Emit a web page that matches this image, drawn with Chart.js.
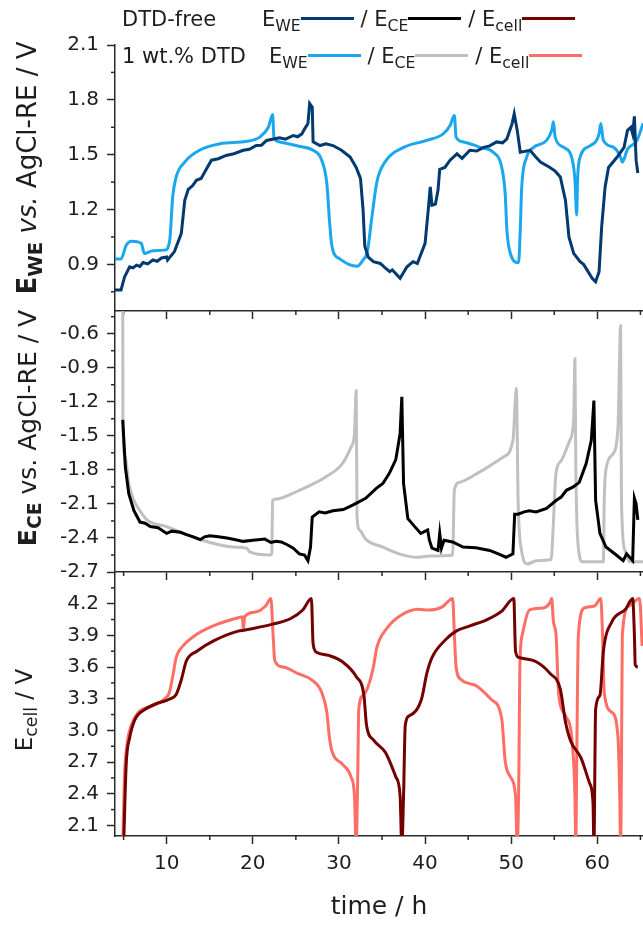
<!DOCTYPE html>
<html>
<head>
<meta charset="utf-8">
<script src="https://cdn.jsdelivr.net/npm/chart.js@4.4.1/dist/chart.umd.min.js"></script>
<style>
  html, body { margin: 0; padding: 0; background: #fff; }
  #page { position: relative; width: 643px; height: 928px; overflow: hidden; font-family: "DejaVu Sans", sans-serif; color: #1e1e1e; }
  #page canvas { position: absolute; left: 0; }
  .lg { position: absolute; font-size: 21px; line-height: 1; white-space: nowrap; }
  .sw { display: inline-block; width: 53px; height: 3px; vertical-align: 0.3em; }
  sub { font-size: 75%; vertical-align: -0.3em; line-height: 0; }
  .yt { position: absolute; line-height: 1; white-space: nowrap; transform: translate(-50%, -50%) rotate(-90deg); }
</style>
</head>
<body>
<div id="page">
  <canvas id="weChart" width="643" height="340" style="top:0"></canvas>
  <canvas id="ceChart" width="643" height="321" style="top:280px"></canvas>
  <canvas id="cellChart" width="643" height="388" style="top:540px"></canvas>

  <div class="lg" style="left:122px; top:9px">DTD-free</div>
  <div class="lg" style="left:262px; top:9px">E<sub>WE</sub><span class="sw" style="background:#003a70"></span> / E<sub>CE</sub><span class="sw" style="background:#000"></span> / E<sub>cell</sub><span class="sw" style="background:#730000"></span></div>
  <div class="lg" style="left:122px; top:46px">1 wt.% DTD</div>
  <div class="lg" style="left:269px; top:46px">E<sub>WE</sub><span class="sw" style="background:#1aa7ee"></span> / E<sub>CE</sub><span class="sw" style="background:#c0c0c0"></span> / E<sub>cell</sub><span class="sw" style="background:#ff6e66"></span></div>

  <div class="yt" style="left:27px; top:168px; font-size:26px"><b>E<sub>WE</sub></b> <i>vs.</i> AgCl-RE / V</div>
  <div class="yt" style="left:27px; top:428px; font-size:25px"><b>E<sub>CE</sub></b> vs. AgCl-RE / V</div>
  <div class="yt" style="left:24px; top:710px; font-size:23px">E<sub>cell</sub> / V</div>
</div>

<script>
// Zeitachse
const timeMin = 4;
const timeMax = 65.3;
const timeTicks = [10, 20, 30, 40, 50, 60];
const timeMinor = [5, 15, 25, 35, 45, 55, 65];

// Achsenbeschriftungen der drei Felder
const weTicks = [0.9, 1.2, 1.5, 1.8, 2.1];
const weMinor = [0.75, 1.05, 1.35, 1.65, 1.95];
const ceTicks = [-2.7, -2.4, -2.1, -1.8, -1.5, -1.2, -0.9, -0.6];
const ceMinor = [-2.55, -2.25, -1.95, -1.65, -1.35, -1.05, -0.75, -0.45];
const cellTicks = [2.1, 2.4, 2.7, 3.0, 3.3, 3.6, 3.9, 4.2];
const cellMinor = [2.25, 2.55, 2.85, 3.15, 3.45, 3.75, 4.05, 4.35];

// E_WE, DTD-frei  [t / h, E / V]
const weFree = [
  [3.95, 0.76], [4.7, 0.76], [5.1, 0.83], [5.7, 0.887], [6.1, 0.881], [6.5, 0.896], [6.9, 0.889], [7.25, 0.91],
  [7.8, 0.903], [8.4, 0.924], [8.9, 0.917], [9.4, 0.935], [10.0, 0.94], [10.1, 0.924], [10.9, 0.97], [11.7, 1.07],
  [12.1, 1.25], [12.5, 1.31], [13.0, 1.33], [13.45, 1.36], [14.0, 1.37], [14.6, 1.42], [15.2, 1.47], [16.0, 1.478],
  [16.9, 1.496], [17.8, 1.505], [18.9, 1.524], [19.6, 1.53], [20.4, 1.55], [21.0, 1.552], [21.6, 1.578], [23.1, 1.593],
  [23.8, 1.585], [24.7, 1.605], [25.2, 1.598], [25.7, 1.614], [26.0, 1.64], [26.4, 1.67], [26.6, 1.78], [26.9, 1.76],
  [27.0, 1.57], [27.8, 1.55], [28.5, 1.56], [29.3, 1.55], [30.3, 1.524], [31.3, 1.487], [32.0, 1.43], [32.5, 1.37],
  [32.8, 1.2], [33.0, 1.0], [33.4, 0.94], [34.0, 0.915], [34.8, 0.905], [35.4, 0.88], [35.9, 0.86], [36.2, 0.87],
  [37.1, 0.824], [37.9, 0.887], [38.6, 0.915], [39.1, 0.905], [40.0, 1.015], [40.4, 1.215], [40.6, 1.324], [40.8, 1.224],
  [41.2, 1.23], [41.5, 1.305], [41.7, 1.42], [42.3, 1.43], [42.9, 1.47], [43.7, 1.505], [44.3, 1.48], [45.2, 1.524],
  [46.0, 1.52], [46.8, 1.54], [47.5, 1.548], [48.3, 1.57], [49.0, 1.565], [49.5, 1.587], [50.1, 1.67], [50.35, 1.724],
  [50.7, 1.633], [51.05, 1.514], [52.2, 1.524], [52.8, 1.49], [53.4, 1.46], [54.5, 1.43], [55.1, 1.41], [55.7, 1.378],
  [56.3, 1.25], [56.7, 1.05], [57.25, 0.96], [58.0, 0.915], [58.4, 0.9], [58.8, 0.87], [59.4, 0.824], [59.8, 0.805],
  [60.2, 0.86], [60.5, 1.105], [60.9, 1.324], [61.3, 1.43], [62.3, 1.487], [63.1, 1.54], [63.5, 1.633], [63.9, 1.65],
  [64.1, 1.614], [64.3, 1.71], [64.5, 1.47], [64.7, 1.40]
];

// E_WE, 1 wt.% DTD
const we1 = [
  [3.95, 0.93], [4.7, 0.93], [5.3, 1.005], [5.9, 1.027], [7.05, 1.015], [7.4, 0.96], [8.4, 0.975],
  [9.8, 0.978], [10.35, 1.03], [10.7, 1.27], [11.1, 1.378], [12.1, 1.46], [13.8, 1.524], [16.2, 1.56],
  [19.3, 1.573], [20.8, 1.596], [21.8, 1.65], [22.3, 1.72], [22.45, 1.596], [23.1, 1.57], [25.5, 1.545],
  [27.0, 1.524], [28.0, 1.47], [28.6, 1.34], [28.9, 1.14], [29.2, 0.996], [30.1, 0.93], [32.1, 0.89],
  [32.8, 0.924], [33.3, 0.97], [33.8, 1.15], [34.4, 1.35], [35.5, 1.47], [37.5, 1.54], [40.2, 1.578],
  [42.1, 1.614], [42.9, 1.66], [43.4, 1.714], [43.6, 1.596], [44.45, 1.57], [46.4, 1.54], [47.9, 1.514],
  [48.9, 1.43], [49.3, 1.287], [49.5, 1.087], [49.8, 0.978], [50.85, 0.909], [51.05, 1.087], [51.2, 1.305],
  [51.8, 1.487], [52.6, 1.54], [54.1, 1.578], [54.7, 1.633], [54.9, 1.68], [55.1, 1.596], [56.1, 1.54],
  [57.1, 1.47], [57.4, 1.36], [57.6, 1.17], [57.7, 1.36], [58.0, 1.487], [59.2, 1.55], [60.2, 1.614],
  [60.4, 1.67], [60.7, 1.578], [61.9, 1.54], [62.7, 1.487], [62.9, 1.46], [63.5, 1.53], [64.6, 1.578],
  [65.3, 1.67]
];

// E_CE, DTD-frei
const ceFree = [
  [4.9, -1.36], [5.2, -1.775], [5.6, -2.01], [6.2, -2.16], [6.9, -2.26], [7.5, -2.27], [8.1, -2.30], [9.0, -2.31],
  [10.0, -2.36], [10.6, -2.34], [11.6, -2.35], [12.3, -2.37], [13.1, -2.39], [13.9, -2.415], [14.4, -2.39],
  [15.0, -2.38], [16.0, -2.39], [17.0, -2.40], [18.0, -2.415], [18.9, -2.43], [20.0, -2.42], [21.4, -2.41],
  [22.1, -2.44], [22.7, -2.43], [23.3, -2.435], [24.0, -2.46], [24.7, -2.49], [25.4, -2.54], [26.0, -2.55],
  [26.4, -2.6], [26.7, -2.48], [26.9, -2.215], [27.7, -2.17], [28.4, -2.18], [29.3, -2.16], [30.5, -2.15],
  [31.6, -2.11], [33.1, -2.05], [34.3, -1.965], [35.1, -1.92], [35.85, -1.83], [36.6, -1.71], [37.1, -1.48],
  [37.3, -1.157], [37.5, -1.92], [38.0, -2.23], [38.8, -2.30], [39.5, -2.36], [40.3, -2.33], [40.5, -2.42],
  [40.8, -2.49], [41.5, -2.51], [41.7, -2.36], [41.9, -2.49], [42.2, -2.42], [43.2, -2.435], [44.4, -2.48],
  [45.9, -2.486], [47.5, -2.51], [48.5, -2.54], [49.4, -2.57], [50.2, -2.54], [50.4, -2.19], [50.8, -2.19],
  [51.5, -2.17], [52.1, -2.16], [52.9, -2.17], [54.1, -2.14], [55.2, -2.07], [55.8, -2.04], [56.4, -1.98],
  [57.2, -1.95], [57.9, -1.91], [58.7, -1.745], [59.3, -1.54], [59.6, -1.19], [59.8, -2.07], [60.3, -2.36],
  [61.0, -2.48], [62.2, -2.55], [63.0, -2.6], [63.4, -2.54], [64.1, -2.6], [64.3, -2.05], [64.5, -2.10],
  [64.7, -2.24]
];

// E_CE, 1 wt.% DTD
const ce1 = [
  [4.9, -0.3], [4.92, -1.39], [5.2, -1.69], [5.6, -1.92], [6.2, -2.07], [6.9, -2.16], [7.7, -2.24],
  [10.0, -2.30], [13.9, -2.415], [17.7, -2.48], [19.3, -2.49], [19.6, -2.52], [22.0, -2.55], [22.2, -2.54],
  [22.3, -2.07], [22.5, -2.06], [25.4, -1.98], [28.5, -1.86], [30.4, -1.745], [31.4, -1.60], [31.8, -1.48],
  [32.0, -1.10], [32.1, -2.215], [32.4, -2.33], [33.1, -2.41], [35.1, -2.48], [37.0, -2.54], [39.0, -2.57],
  [40.5, -2.56], [43.2, -2.55], [43.4, -1.98], [44.0, -1.91], [46.3, -1.82], [49.0, -1.69], [50.2, -1.54],
  [50.6, -1.08], [50.8, -2.07], [51.2, -2.51], [51.9, -2.63], [52.9, -2.6], [54.65, -2.59], [54.8, -2.42],
  [55.2, -1.83], [55.8, -1.72], [56.8, -1.54], [57.25, -1.36], [57.4, -0.82], [57.5, -1.77], [57.75, -2.45],
  [58.3, -2.61], [60.7, -2.61], [60.8, -2.07], [61.05, -1.775], [61.8, -1.66], [62.4, -1.42], [62.7, -0.53],
  [62.8, -2.07], [63.2, -2.51], [63.8, -2.61], [65.3, -2.61]
];

// E_cell, DTD-frei
const cellFree = [
  [5.0, 1.9], [5.3, 2.68], [5.7, 2.93], [6.3, 3.10], [7.5, 3.20], [8.7, 3.25], [10.3, 3.295], [11.1, 3.34],
  [11.7, 3.48], [12.3, 3.66], [13.5, 3.75], [15.5, 3.85], [18.3, 3.94], [19.1, 3.95], [22.3, 4.006],
  [24.4, 4.06], [25.8, 4.14], [26.8, 4.25], [27.0, 3.82], [27.4, 3.74], [28.8, 3.71], [30.4, 3.65],
  [32.0, 3.51], [32.9, 3.33], [33.2, 3.05], [34.0, 2.91], [35.4, 2.79], [36.6, 2.56], [37.1, 2.38],
  [37.3, 1.9], [37.5, 2.38], [37.7, 3.05], [38.2, 3.14], [39.6, 3.30], [40.2, 3.54], [40.8, 3.69],
  [42.4, 3.86], [43.6, 3.94], [45.2, 3.99], [47.2, 4.05], [48.9, 4.13], [50.3, 4.25], [50.5, 3.75],
  [50.9, 3.69], [52.9, 3.65], [54.5, 3.54], [55.7, 3.39], [56.3, 3.08], [56.9, 2.90], [58.1, 2.74],
  [59.1, 2.50], [59.5, 2.31], [59.6, 1.9], [59.8, 3.20], [60.3, 3.33], [60.7, 3.75], [61.7, 4.03],
  [63.3, 4.15], [64.1, 4.25], [64.3, 3.91], [64.4, 3.62], [64.7, 3.6]
];

// E_cell, 1 wt.% DTD
const cell1 = [
  [4.9, 1.9], [5.1, 2.56], [5.4, 2.87], [5.9, 3.05], [6.7, 3.17], [8.3, 3.23], [9.7, 3.295], [10.3, 3.356],
  [10.7, 3.51], [11.1, 3.69], [11.9, 3.80], [13.5, 3.91], [15.9, 4.006], [18.3, 4.067], [18.8, 4.076],
  [18.9, 3.95], [19.05, 4.076], [20.3, 4.12], [21.5, 4.18], [22.1, 4.25], [22.35, 3.91], [22.55, 3.66],
  [23.55, 3.60], [25.2, 3.54], [26.8, 3.48], [28.0, 3.36], [28.6, 3.17], [28.9, 2.93], [29.2, 2.80],
  [30.4, 2.68], [31.4, 2.56], [31.8, 2.38], [32.0, 1.9], [32.2, 2.68], [32.3, 3.20], [32.8, 3.33],
  [33.4, 3.42], [34.0, 3.60], [34.4, 3.785], [35.6, 3.97], [37.2, 4.09], [39.2, 4.147], [40.4, 4.14],
  [42.0, 4.17], [43.2, 4.25], [43.4, 3.91], [43.6, 3.60], [44.2, 3.48], [46.0, 3.42], [47.65, 3.295],
  [48.9, 3.11], [49.3, 2.71], [49.9, 2.56], [50.5, 2.38], [50.7, 1.9], [50.9, 2.68], [51.0, 3.60],
  [51.3, 3.91], [52.1, 4.14], [53.7, 4.16], [54.5, 4.21], [54.7, 4.25], [54.9, 4.03], [55.2, 3.91],
  [55.5, 3.356], [56.3, 3.14], [57.1, 2.87], [57.4, 2.38], [57.5, 1.9], [57.6, 2.68], [57.8, 3.91],
  [58.5, 4.16], [59.7, 4.18], [60.4, 4.25], [60.6, 3.91], [60.8, 3.356], [61.7, 3.17], [62.4, 2.93],
  [62.6, 2.38], [62.7, 1.9], [62.8, 2.68], [62.9, 3.91], [63.7, 4.18], [64.9, 4.25], [65.2, 3.8]
];

const axisColor = '#2a2a2a';
const textColor = '#1e1e1e';
const tickFont = { family: 'DejaVu Sans', size: 20 };

// kurze Zwischenstriche an beiden Achsen
const minorTicks = {
  id: 'minorTicks',
  afterDraw(chart, args, opts) {
    const ctx = chart.ctx;
    const xs = chart.scales.x;
    const ys = chart.scales.y;
    ctx.save();
    ctx.strokeStyle = axisColor;
    ctx.lineWidth = 1.5;
    opts.x.forEach(v => {
      const px = xs.getPixelForValue(v);
      if (px < xs.left - 1 || px > xs.right + 1) return;
      ctx.beginPath();
      ctx.moveTo(px, xs.top);
      ctx.lineTo(px, xs.top + 4);
      ctx.stroke();
    });
    opts.y.forEach(v => {
      const py = ys.getPixelForValue(v);
      if (py < ys.top - 1 || py > ys.bottom + 1) return;
      ctx.beginPath();
      ctx.moveTo(ys.right, py);
      ctx.lineTo(ys.right - 4, py);
      ctx.stroke();
    });
    ctx.restore();
  }
};

function xAxis(showLabels) {
  return {
    type: 'linear',
    min: timeMin,
    max: timeMax,
    afterBuildTicks: s => { s.ticks = timeTicks.map(v => ({ value: v })); },
    grid: { drawOnChartArea: false, drawTicks: true, tickLength: 8, tickWidth: 1.5, tickColor: axisColor },
    border: { display: true, color: axisColor, width: 1.5 },
    ticks: { display: showLabels, font: tickFont, color: textColor, padding: 8, maxRotation: 0, callback: v => String(v) },
    title: { display: showLabels, text: 'time / h', color: textColor, font: { family: 'DejaVu Sans', size: 25 }, padding: { top: 8, bottom: 0 } }
  };
}

function yAxis(min, max, ticks) {
  return {
    min: min,
    max: max,
    afterBuildTicks: s => { s.ticks = ticks.map(v => ({ value: v })); },
    afterFit: s => { s.width = 115; },
    grid: { drawOnChartArea: false, drawTicks: true, tickLength: 8, tickWidth: 1.5, tickColor: axisColor },
    border: { display: true, color: axisColor, width: 1.5 },
    ticks: { font: tickFont, color: textColor, padding: 8, callback: v => v.toFixed(1) }
  };
}

function series(points, color, smooth) {
  return {
    data: points.map(p => ({ x: p[0], y: p[1] })),
    borderColor: color,
    borderWidth: 3,
    pointRadius: 0,
    fill: false,
    tension: smooth ? 0.4 : 0,
    cubicInterpolationMode: smooth ? 'monotone' : 'default'
  };
}

function makePanel(canvasId, datasets, yOpts, minorY, padding, showX) {
  const ctx = document.getElementById(canvasId).getContext('2d');
  return new Chart(ctx, {
    type: 'line',
    data: { datasets: datasets },
    options: {
      responsive: false,
      animation: false,
      events: [],
      layout: { padding: padding },
      scales: { x: xAxis(showX), y: yOpts },
      plugins: {
        legend: { display: false },
        tooltip: { enabled: false },
        minorTicks: { x: timeMinor, y: minorY }
      }
    },
    plugins: [minorTicks]
  });
}

makePanel('weChart',
  [series(weFree, '#003a70', false), series(we1, '#1aa7ee', true)],
  yAxis(0.645, 2.1, weTicks), weMinor,
  { top: 45, bottom: 21, left: 0, right: 0 }, false);

makePanel('ceChart',
  [series(ceFree, '#000000', false), series(ce1, '#c0c0c0', true)],
  yAxis(-2.7, -0.4, ceTicks), ceMinor,
  { top: 31, bottom: 21, left: 0, right: 0 }, false);

makePanel('cellChart',
  [series(cellFree, '#730000', true), series(cell1, '#ff6e66', true)],
  yAxis(2.0, 4.5, cellTicks), cellMinor,
  { top: 32, bottom: 6, left: 0, right: 0 }, true);
</script>
</body>
</html>
